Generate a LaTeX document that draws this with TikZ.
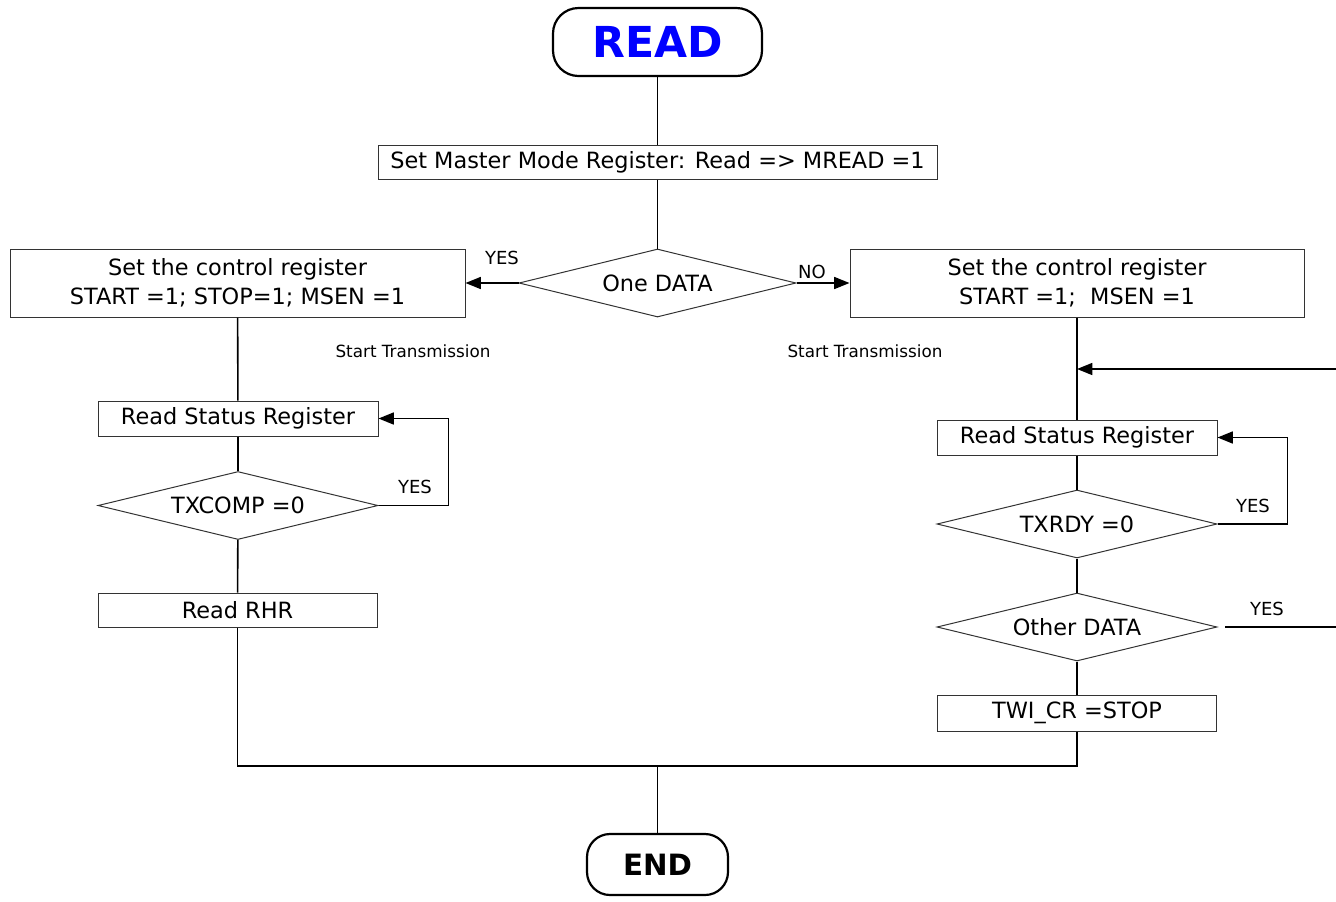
\documentclass[tikz,border=0pt]{standalone}
\usepackage{fontspec}
\setmainfont{DejaVu Sans}
\usetikzlibrary{shapes.geometric,arrows.meta}
\def\px{0.75pt}
\begin{document}
\begin{tikzpicture}[x=0.75pt,y=-0.75pt,
  term/.style={draw,line width=2.2*\px,rectangle,rounded corners=#1,inner sep=0pt},
  pbox/.style={draw,black!80,line width=1*\px,rectangle,inner sep=0pt,text=black,font=\fontsize{16.8}{21.5}\selectfont,align=center},
  dec/.style={draw,black!80,line width=1*\px,diamond,aspect=4,inner sep=0pt,text=black,font=\fontsize{16.8}{19}\selectfont,minimum width=280*\px,minimum height=68*\px},
  conn/.style={line width=1.6*\px},
  arr/.style={conn,-{Triangle[length=11.5pt,width=9pt]}},
  lbl/.style={inner sep=0pt,font=\fontsize{13.5}{15}\selectfont},
  small/.style={inner sep=0pt,font=\fontsize{12.6}{14}\selectfont}]
\useasboundingbox (0,0) rectangle (1336,901);
% terminals
\node[term=25.5*\px,minimum width=209*\px,minimum height=68*\px,text=blue,font=\fontsize{32}{36}\selectfont\bfseries] (read) at (657.5,42) {READ};
\node[term=23*\px,minimum width=141*\px,minimum height=61*\px,font=\fontsize{22}{26}\selectfont\bfseries] (end) at (657.5,864.5) {END};
% boxes
\node[pbox,minimum width=559*\px,minimum height=34*\px] (mm) at (657.5,162) {Set Master Mode Register: Read => MREAD =1};
\node[dec,minimum width=277*\px] (one) at (657.5,283) {One DATA};
\node[pbox,minimum width=455*\px,minimum height=68*\px] (lctl) at (237.5,283) {Set the control register\\START =1; STOP=1; MSEN =1};
\node[pbox,minimum width=454*\px,minimum height=68*\px] (rctl) at (1077,283) {Set the control register\\START =1;\ \ MSEN =1};
\node[pbox,minimum width=280*\px,minimum height=35*\px] (lrsr) at (238,418.5) {Read Status Register};
\node[dec] (txc) at (238,505.5) {TXCOMP =0};
\node[pbox,minimum width=279*\px,minimum height=34*\px] (rhr) at (237.5,610) {Read RHR};
\node[pbox,minimum width=280*\px,minimum height=35*\px] (rrsr) at (1077,437.5) {Read Status Register};
\node[dec] (txr) at (1077,524) {TXRDY =0};
\node[dec] (oth) at (1077,627) {Other DATA};
\node[pbox,minimum width=279*\px,minimum height=36*\px] (twi) at (1077,713) {TWI\_CR =STOP};
% labels
\node[lbl] (y1) at (502,258) {YES};
\node[lbl] (n1) at (812,272) {NO};
\node[lbl] (y2) at (415,487) {YES};
\node[lbl] (y3) at (1253,506) {YES};
\node[lbl] (y4) at (1267,609) {YES};
\node[small] (st1) at (413,351) {Start Transmission};
\node[small] (st2) at (865,351) {Start Transmission};
% coordinates
\coordinate (j) at (657.5,766);
\coordinate (inR) at (1336,369);
\coordinate (outS) at (1225,627);
\coordinate (outR) at (1336,627);
% connectors
\draw[conn] (read) -- (mm);
\draw[conn] (mm) -- (one);
\draw[arr] (one.west) -- (lctl.east);
\draw[arr] (one.east) -- (rctl.west);
\draw[conn] (lctl) -- (lrsr);
\draw[conn] (lrsr) -- (txc);
\draw[arr] (txc.east) -- ++(70,0) |- (lrsr.east);
\draw[conn] (txc) -- (rhr);
\draw[conn] (rhr.south) |- (j);
\draw[conn] (twi.south) |- (j);
\draw[conn] (j) -- (end);
\draw[conn] (rctl) -- (rrsr);
\draw[arr] (inR) -- (inR -| rctl.south);
\draw[conn] (rrsr) -- (txr);
\draw[arr] (txr.east) -- ++(70,0) |- (rrsr.east);
\draw[conn] (txr) -- (oth);
\draw[conn] (outS) -- (outR);
\draw[conn] (oth) -- (twi);
\end{tikzpicture}
\end{document}
